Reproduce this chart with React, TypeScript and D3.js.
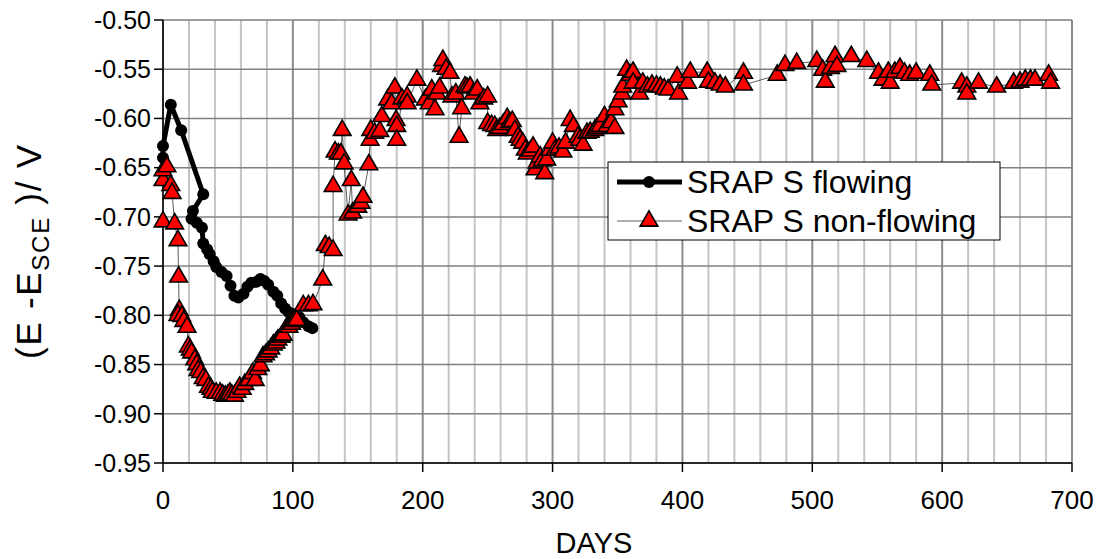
import React from "react";
import * as d3 from "d3";

const flowingDays = [0, 0, 6, 14, 31, 23, 22, 26, 30, 31, 34, 36, 39, 41, 45, 49, 52, 55, 58, 62, 65, 68, 72, 75, 78, 81, 85, 88, 91, 94, 97, 101, 105, 108, 112, 115];
const flowingValues = [-0.640, -0.628, -0.586, -0.612, -0.677, -0.694, -0.702, -0.706, -0.711, -0.727, -0.733, -0.738, -0.745, -0.751, -0.756, -0.760, -0.770, -0.780, -0.782, -0.778, -0.771, -0.767, -0.766, -0.763, -0.765, -0.769, -0.776, -0.780, -0.788, -0.793, -0.797, -0.799, -0.802, -0.807, -0.811, -0.813];

const nonFlowingDays = [0, 0, 0, 3, 6, 7, 9, 11.5, 12, 12.5, 11.5, 14.5, 16, 18.5, 19.5, 21, 22, 24.5, 26, 27, 29, 31, 33, 35, 37, 38, 41, 44, 46, 48, 50, 51.5, 53, 55, 57, 59, 61, 63, 66, 69, 71, 73, 75, 77, 79, 81, 83, 85, 87, 88.5, 91, 92.5, 95.5, 97, 99, 101, 103, 108, 112, 115.5, 123, 125, 128, 131, 131, 132.5, 135, 137, 138, 139.5, 142.5, 145, 146, 150, 152.5, 154, 158.5, 159.5, 160, 163, 167, 168.5, 173, 176, 178.5, 179.5, 180, 180, 184, 188, 188, 195.5, 202, 205, 207, 209.5, 211, 213, 214.5, 215.5, 218, 221, 222.5, 225.5, 228, 230, 232.5, 234, 236.5, 239, 242, 244, 247, 250, 250, 253, 255.5, 257, 259.5, 262, 265, 267, 269, 271, 273.5, 275, 277, 279, 280.5, 283, 285, 286.5, 288, 290.5, 292, 294, 295.5, 298, 300, 302, 305, 308, 310, 313.5, 316, 319.5, 321, 323.5, 326.5, 329, 332.5, 334, 336.5, 340, 342, 345, 348, 348, 350.5, 353.5, 354, 357, 360, 362, 362, 367, 369.5, 373, 376.5, 380, 383, 386, 389, 396, 397, 404, 406, 419, 420, 425, 429, 433, 447, 447, 473, 479, 488, 503.5, 508, 510, 514, 517.5, 519, 530, 542, 551, 554.5, 558.5, 560, 563.5, 567.5, 571, 575, 580, 590.5, 592, 615, 619, 619, 628, 642, 655, 660, 664, 668, 671.5, 682, 683.5];
const nonFlowingValues = [-0.705, -0.663, -0.653, -0.649, -0.668, -0.676, -0.707, -0.724, -0.761, -0.795, -0.800, -0.801, -0.806, -0.812, -0.832, -0.835, -0.838, -0.845, -0.850, -0.856, -0.858, -0.864, -0.866, -0.873, -0.875, -0.878, -0.879, -0.879, -0.881, -0.882, -0.881, -0.879, -0.881, -0.882, -0.878, -0.873, -0.875, -0.870, -0.866, -0.859, -0.866, -0.855, -0.851, -0.842, -0.840, -0.837, -0.834, -0.830, -0.828, -0.825, -0.822, -0.820, -0.812, -0.812, -0.809, -0.806, -0.805, -0.790, -0.790, -0.789, -0.764, -0.729, -0.731, -0.734, -0.669, -0.634, -0.636, -0.636, -0.612, -0.646, -0.698, -0.663, -0.696, -0.690, -0.686, -0.680, -0.647, -0.622, -0.612, -0.615, -0.613, -0.598, -0.581, -0.585, -0.569, -0.602, -0.608, -0.622, -0.580, -0.578, -0.585, -0.561, -0.581, -0.585, -0.571, -0.591, -0.575, -0.569, -0.547, -0.541, -0.550, -0.554, -0.578, -0.575, -0.619, -0.590, -0.568, -0.569, -0.568, -0.575, -0.571, -0.585, -0.580, -0.578, -0.605, -0.607, -0.608, -0.612, -0.610, -0.606, -0.600, -0.604, -0.603, -0.612, -0.619, -0.622, -0.625, -0.632, -0.636, -0.633, -0.629, -0.652, -0.645, -0.639, -0.643, -0.656, -0.642, -0.632, -0.625, -0.632, -0.630, -0.634, -0.625, -0.602, -0.608, -0.619, -0.622, -0.627, -0.615, -0.614, -0.612, -0.610, -0.608, -0.598, -0.608, -0.604, -0.610, -0.591, -0.583, -0.575, -0.568, -0.551, -0.556, -0.553, -0.564, -0.575, -0.564, -0.568, -0.566, -0.567, -0.568, -0.570, -0.571, -0.558, -0.575, -0.564, -0.553, -0.553, -0.563, -0.564, -0.566, -0.568, -0.554, -0.566, -0.556, -0.546, -0.544, -0.542, -0.551, -0.563, -0.549, -0.537, -0.547, -0.537, -0.542, -0.554, -0.561, -0.553, -0.564, -0.553, -0.549, -0.554, -0.556, -0.554, -0.556, -0.566, -0.564, -0.568, -0.575, -0.564, -0.568, -0.564, -0.563, -0.561, -0.561, -0.561, -0.556, -0.564];

const xTicks = [0, 100, 200, 300, 400, 500, 600, 700];
const yTicks = [-0.95, -0.9, -0.85, -0.8, -0.75, -0.7, -0.65, -0.6, -0.55, -0.5];
const seriesNames = ["SRAP S flowing", "SRAP S non-flowing"];

const FONT = "Liberation Sans, Arial, sans-serif";

export default function App() {
  const x = d3.scaleLinear().domain([0, 700]).range([163, 1072]);
  const y = d3.scaleLinear().domain([-0.95, -0.5]).range([463, 20]);
  const minorX = d3.range(0, 701, 20);

  const flowing = flowingDays.map((d, i) => [d, flowingValues[i]] as [number, number]);
  const nonFlowing = nonFlowingDays.map((d, i) => [d, nonFlowingValues[i]] as [number, number]);
  const line = d3.line<[number, number]>().x(d => x(d[0])).y(d => y(d[1]));
  const tri = d3.symbol().type(d3.symbolTriangle).size(135)() as string;

  return (
    <svg width={1104} height={559} style={{ position: "absolute", left: 0, top: 0, background: "#fff" }}>
      <rect x={0} y={0} width={1104} height={559} fill="#fff" />
      {minorX.map(v => (
        <line key={"vx" + v} x1={x(v)} x2={x(v)} y1={y(-0.5)} y2={y(-0.95)}
          stroke={v % 100 === 0 ? "#8c8c8c" : "#c4c4c4"} strokeWidth={2} />
      ))}
      {yTicks.map(v => (
        <line key={"hy" + v} x1={x(0)} x2={x(700)} y1={y(v)} y2={y(v)} stroke="#808080" strokeWidth={1.5} />
      ))}
      {/* axes */}
      <line x1={x(0)} x2={x(0)} y1={y(-0.5)} y2={y(-0.95)} stroke="#000" strokeWidth={1.5} />
      <line x1={x(0)} x2={x(700)} y1={y(-0.95)} y2={y(-0.95)} stroke="#000" strokeWidth={1.5} />
      {yTicks.map(v => (
        <g key={"yt" + v}>
          <line x1={x(0) - 9} x2={x(0)} y1={y(v)} y2={y(v)} stroke="#000" strokeWidth={1.5} />
          <text x={x(0) - 12} y={y(v)} dy="0.35em" textAnchor="end" fontFamily={FONT} fontSize={25} fill="#000">
            {v.toFixed(2)}
          </text>
        </g>
      ))}
      {xTicks.map(v => (
        <g key={"xt" + v}>
          <line x1={x(v)} x2={x(v)} y1={y(-0.95)} y2={y(-0.95) + 9} stroke="#000" strokeWidth={1.5} />
          <text x={x(v)} y={y(-0.95) + 46} textAnchor="middle" fontFamily={FONT} fontSize={26} fill="#000">
            {v}
          </text>
        </g>
      ))}
      <text x={594} y={553} textAnchor="middle" fontFamily={FONT} fontSize={29} fill="#000">DAYS</text>
      <text transform="translate(41,252) rotate(-90)" textAnchor="middle" fontFamily={FONT} fontSize={35} fill="#000"
        textLength={214} lengthAdjust="spacing">
        (E -E<tspan fontSize={24} dy={8}>SCE</tspan><tspan dy={-8}> )/ V</tspan>
      </text>

      {/* flowing series */}
      <path d={line(flowing) || ""} fill="none" stroke="#000" strokeWidth={5} strokeLinejoin="round" />
      {flowing.map((d, i) => (
        <circle key={"f" + i} cx={x(d[0])} cy={y(d[1])} r={6} fill="#000" />
      ))}

      {/* non-flowing series */}
      <path d={line(nonFlowing) || ""} fill="none" stroke="#333" strokeWidth={0.8} />
      {nonFlowing.map((d, i) => (
        <path key={"n" + i} d={tri} transform={`translate(${x(d[0])},${y(d[1])})`} fill="#ff0000" stroke="#000" strokeWidth={1.6} />
      ))}

      {/* legend */}
      <rect x={608} y={162} width={392} height={78} fill="#fff" stroke="#000" strokeWidth={1} />
      <line x1={617} x2={682} y1={182} y2={182} stroke="#000" strokeWidth={5} />
      <circle cx={649} cy={182} r={6} fill="#000" />
      <text x={687} y={182} dy="0.35em" fontFamily={FONT} fontSize={32} fill="#000">{seriesNames[0]}</text>
      <line x1={617} x2={682} y1={221} y2={221} stroke="#333" strokeWidth={0.8} />
      <path d={tri} transform="translate(649,221)" fill="#ff0000" stroke="#000" strokeWidth={1.6} />
      <text x={687} y={221} dy="0.35em" fontFamily={FONT} fontSize={32} fill="#000">{seriesNames[1]}</text>
    </svg>
  );
}
